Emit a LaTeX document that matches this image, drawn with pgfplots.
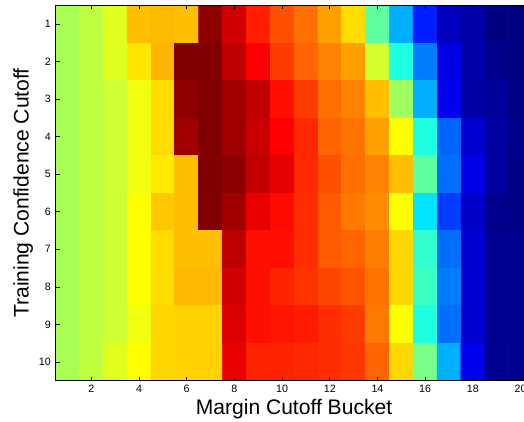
\documentclass[border=0pt]{standalone}
\usepackage{fontspec}
\setmainfont{Liberation Sans}
\usepackage{pgfplots}
\pgfplotsset{compat=1.18}

\begin{document}
\begin{tikzpicture}
\begin{axis}[
    at={(0,0)}, anchor=south west,
    scale only axis,
    width=357.75pt, height=281.55pt,
    xmin=0.5, xmax=20.5, ymin=0.5, ymax=10.5,
    y dir=reverse,
    enlargelimits=false,
    axis on top,
    xtick={2,4,...,20}, ytick={1,...,10},
    tick align=inside,
    major tick length=3pt,
    tick style={black, line width=0.5pt},
    axis line style={line width=0.9pt},
    colormap/jet,
    point meta min=0, point meta max=1,
    /pgf/number format/assume math mode=true,
    tick label style={font=\fontsize{8}{9}\selectfont},
    label style={font=\fontsize{15.8}{18}\selectfont},
    xlabel={Margin Cutoff Bucket},
    ylabel={Training Confidence Cutoff},
    xlabel style={at={(axis description cs:0.5,0)}, anchor=base, yshift=-25.7pt},
    ylabel style={at={(axis description cs:-0.068,0.5)}, anchor=center},
]
\addplot[matrix plot*, mesh/cols=20, point meta=explicit] coordinates {
(1,1) [0.542] (2,1) [0.561] (3,1) [0.596] (4,1) [0.689] (5,1) [0.694] (6,1) [0.689] (7,1) [0.988] (8,1) [0.919] (9,1) [0.846] (10,1) [0.797] (11,1) [0.767] (12,1) [0.718] (13,1) [0.659] (14,1) [0.468] (15,1) [0.297] (16,1) [0.154] (17,1) [0.061] (18,1) [0.042] (19,1) [0.003] (20,1) [0.003]
(1,2) [0.542] (2,2) [0.561] (3,2) [0.596] (4,2) [0.650] (5,2) [0.699] (6,2) [1.000] (7,2) [1.000] (8,2) [0.939] (9,2) [0.875] (10,2) [0.816] (11,2) [0.777] (12,2) [0.748] (13,2) [0.718] (14,2) [0.581] (15,2) [0.404] (16,2) [0.248] (17,2) [0.100] (18,2) [0.042] (19,2) [0.012] (20,2) [0.003]
(1,3) [0.542] (2,3) [0.561] (3,3) [0.576] (4,3) [0.610] (5,3) [0.659] (6,3) [0.983] (7,3) [1.000] (8,3) [0.968] (9,3) [0.934] (10,3) [0.860] (11,3) [0.816] (12,3) [0.767] (13,3) [0.748] (14,3) [0.689] (15,3) [0.532] (16,3) [0.297] (17,3) [0.110] (18,3) [0.037] (19,3) [0.027] (20,3) [0.007]
(1,4) [0.542] (2,4) [0.561] (3,4) [0.576] (4,4) [0.610] (5,4) [0.659] (6,4) [0.968] (7,4) [1.000] (8,4) [0.968] (9,4) [0.929] (10,4) [0.875] (11,4) [0.836] (12,4) [0.777] (13,4) [0.762] (14,4) [0.718] (15,4) [0.625] (16,4) [0.404] (17,4) [0.223] (18,4) [0.080] (19,4) [0.032] (20,4) [0.012]
(1,5) [0.542] (2,5) [0.561] (3,5) [0.576] (4,5) [0.610] (5,5) [0.645] (6,5) [0.689] (7,5) [1.000] (8,5) [0.988] (9,5) [0.934] (10,5) [0.900] (11,5) [0.836] (12,5) [0.797] (13,5) [0.767] (14,5) [0.748] (15,5) [0.689] (16,5) [0.468] (17,5) [0.233] (18,5) [0.100] (19,5) [0.032] (20,5) [0.007]
(1,6) [0.542] (2,6) [0.561] (3,6) [0.576] (4,6) [0.625] (5,6) [0.679] (6,6) [0.689] (7,6) [1.000] (8,6) [0.968] (9,6) [0.895] (10,6) [0.865] (11,6) [0.831] (12,6) [0.787] (13,6) [0.757] (14,6) [0.738] (15,6) [0.625] (16,6) [0.350] (17,6) [0.184] (18,6) [0.070] (19,6) [0.012] (20,6) [0.007]
(1,7) [0.542] (2,7) [0.561] (3,7) [0.576] (4,7) [0.625] (5,7) [0.659] (6,7) [0.689] (7,7) [0.689] (8,7) [0.939] (9,7) [0.860] (10,7) [0.860] (11,7) [0.831] (12,7) [0.787] (13,7) [0.777] (14,7) [0.752] (15,7) [0.664] (16,7) [0.424] (17,7) [0.233] (18,7) [0.080] (19,7) [0.017] (20,7) [0.017]
(1,8) [0.542] (2,8) [0.561] (3,8) [0.576] (4,8) [0.625] (5,8) [0.659] (6,8) [0.694] (7,8) [0.694] (8,8) [0.919] (9,8) [0.860] (10,8) [0.841] (11,8) [0.826] (12,8) [0.806] (13,8) [0.792] (14,8) [0.762] (15,8) [0.664] (16,8) [0.434] (17,8) [0.248] (18,8) [0.080] (19,8) [0.017] (20,8) [0.017]
(1,9) [0.542] (2,9) [0.561] (3,9) [0.576] (4,9) [0.610] (5,9) [0.664] (6,9) [0.669] (7,9) [0.669] (8,9) [0.909] (9,9) [0.860] (10,9) [0.855] (11,9) [0.850] (12,9) [0.831] (13,9) [0.816] (14,9) [0.757] (15,9) [0.625] (16,9) [0.404] (17,9) [0.233] (18,9) [0.080] (19,9) [0.017] (20,9) [0.017]
(1,10) [0.542] (2,10) [0.561] (3,10) [0.596] (4,10) [0.625] (5,10) [0.664] (6,10) [0.669] (7,10) [0.669] (8,10) [0.895] (9,10) [0.841] (10,10) [0.841] (11,10) [0.836] (12,10) [0.831] (13,10) [0.821] (14,10) [0.777] (15,10) [0.664] (16,10) [0.493] (17,10) [0.297] (18,10) [0.110] (19,10) [0.017] (20,10) [0.017]
};
\end{axis}
\pgfresetboundingbox
\path[use as bounding box] (-41.625pt,-30.225pt) rectangle (351.375pt,285.525pt);
\end{tikzpicture}
\end{document}
